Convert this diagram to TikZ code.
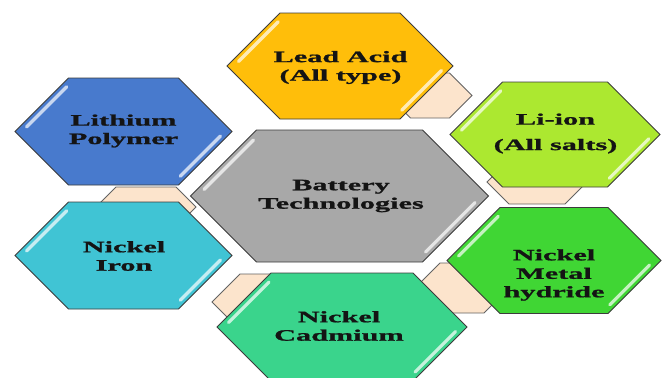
\documentclass[tikz,border=0pt]{standalone}
\usepackage{fontspec}
\setmainfont{Liberation Serif}[FakeStretch=1.9,BoldFeatures={FakeBold=1.2}]
\usetikzlibrary{positioning}
\definecolor{leadgold}{RGB}{255,190,10}
\definecolor{lipolyblue}{RGB}{72,122,205}
\definecolor{lionlime}{RGB}{172,232,48}
\definecolor{techgray}{RGB}{168,168,168}
\definecolor{ironcyan}{RGB}{64,196,212}
\definecolor{metalgreen}{RGB}{64,214,52}
\definecolor{cadmint}{RGB}{58,212,140}
\definecolor{peach}{RGB}{252,228,204}
\definecolor{rim}{RGB}{60,60,60}
\tikzset{
  gloss/.style={draw=white,line width=3.2bp,line cap=round,opacity=0.7},
  cell text/.style={font=\bfseries\fontsize{16}{18.5}\selectfont,align=center,
    text=black!92,inner sep=0pt},
  % hexagon cell: half width, half height, colour
  pics/hexcell/.style n args={3}{code={
    \filldraw[fill=#3,draw=rim,line width=0.9bp] (-#1,0) -- ({-#1+#2},-#2) -- ({#1-#2},-#2)
      -- (#1,0) -- ({#1-#2},#2) -- ({-#1+#2},#2) -- cycle;
    \draw[gloss] ({-#1+0.15*#2+3.5},{-0.15*#2+3.5}) -- ({-#1+0.9*#2+3.5},{-0.9*#2+3.5});
    \draw[gloss] ({#1-0.15*#2-3.5},{0.15*#2-3.5}) -- ({#1-0.9*#2-3.5},{0.9*#2-3.5});
  }},
  % joint piece behind the cells
  pics/joint/.style n args={2}{code={
    \filldraw[fill=peach,draw=rim!80,line width=0.8bp] (-#1,0) -- ({-#1+#2},-#2) -- ({#1-#2},-#2)
      -- (#1,0) -- ({#1-#2},#2) -- ({-#1+#2},#2) -- cycle;
  }},
}
\begin{document}
\begin{tikzpicture}[x=1bp,y=-1bp]
  \fill[white] (0,0) rectangle (665,377);
  \useasboundingbox (0,0) rectangle (665,377);
  % joints
  \pic at (430,95.5) {joint={42}{22.5}};
  \pic at (146,207) {joint={50}{20}};
  \pic at (537,182) {joint={50}{22}};
  \pic at (290,302) {joint={78}{28}};
  \pic at (462,288) {joint={47}{25}};
  % cells
  \pic at (340,66) {hexcell={113}{53}{leadgold}};
  \pic at (123.5,131.5) {hexcell={108.5}{53.5}{lipolyblue}};
  \pic at (555,134.5) {hexcell={105}{52.5}{lionlime}};
  \pic at (339.5,196) {hexcell={149}{66}{techgray}};
  \pic at (123.5,255.5) {hexcell={108.5}{53.5}{ironcyan}};
  \pic at (554,260.5) {hexcell={107}{53}{metalgreen}};
  \pic at (342,327) {hexcell={125}{54}{cadmint}};
  % labels
  \node[cell text] (leadacid) at (340.5,67.5) {Lead Acid\\(All type)};
  \node[cell text] (lipoly) at (123.5,131) {Lithium\\Polymer};
  \node[cell text] (liion) at (555.5,133.5) {Li-ion\\[7bp](All salts)};
  \node[cell text] (battery) at (341,196) {Battery\\Technologies};
  \node[cell text] (niiron) at (124,256) {Nickel\\Iron};
  \node[cell text] (nimh) at (554,275) {Nickel\\Metal\\hydride};
  \node[cell text] (nicd) at (339,326) {Nickel\\Cadmium};
\end{tikzpicture}
\end{document}
